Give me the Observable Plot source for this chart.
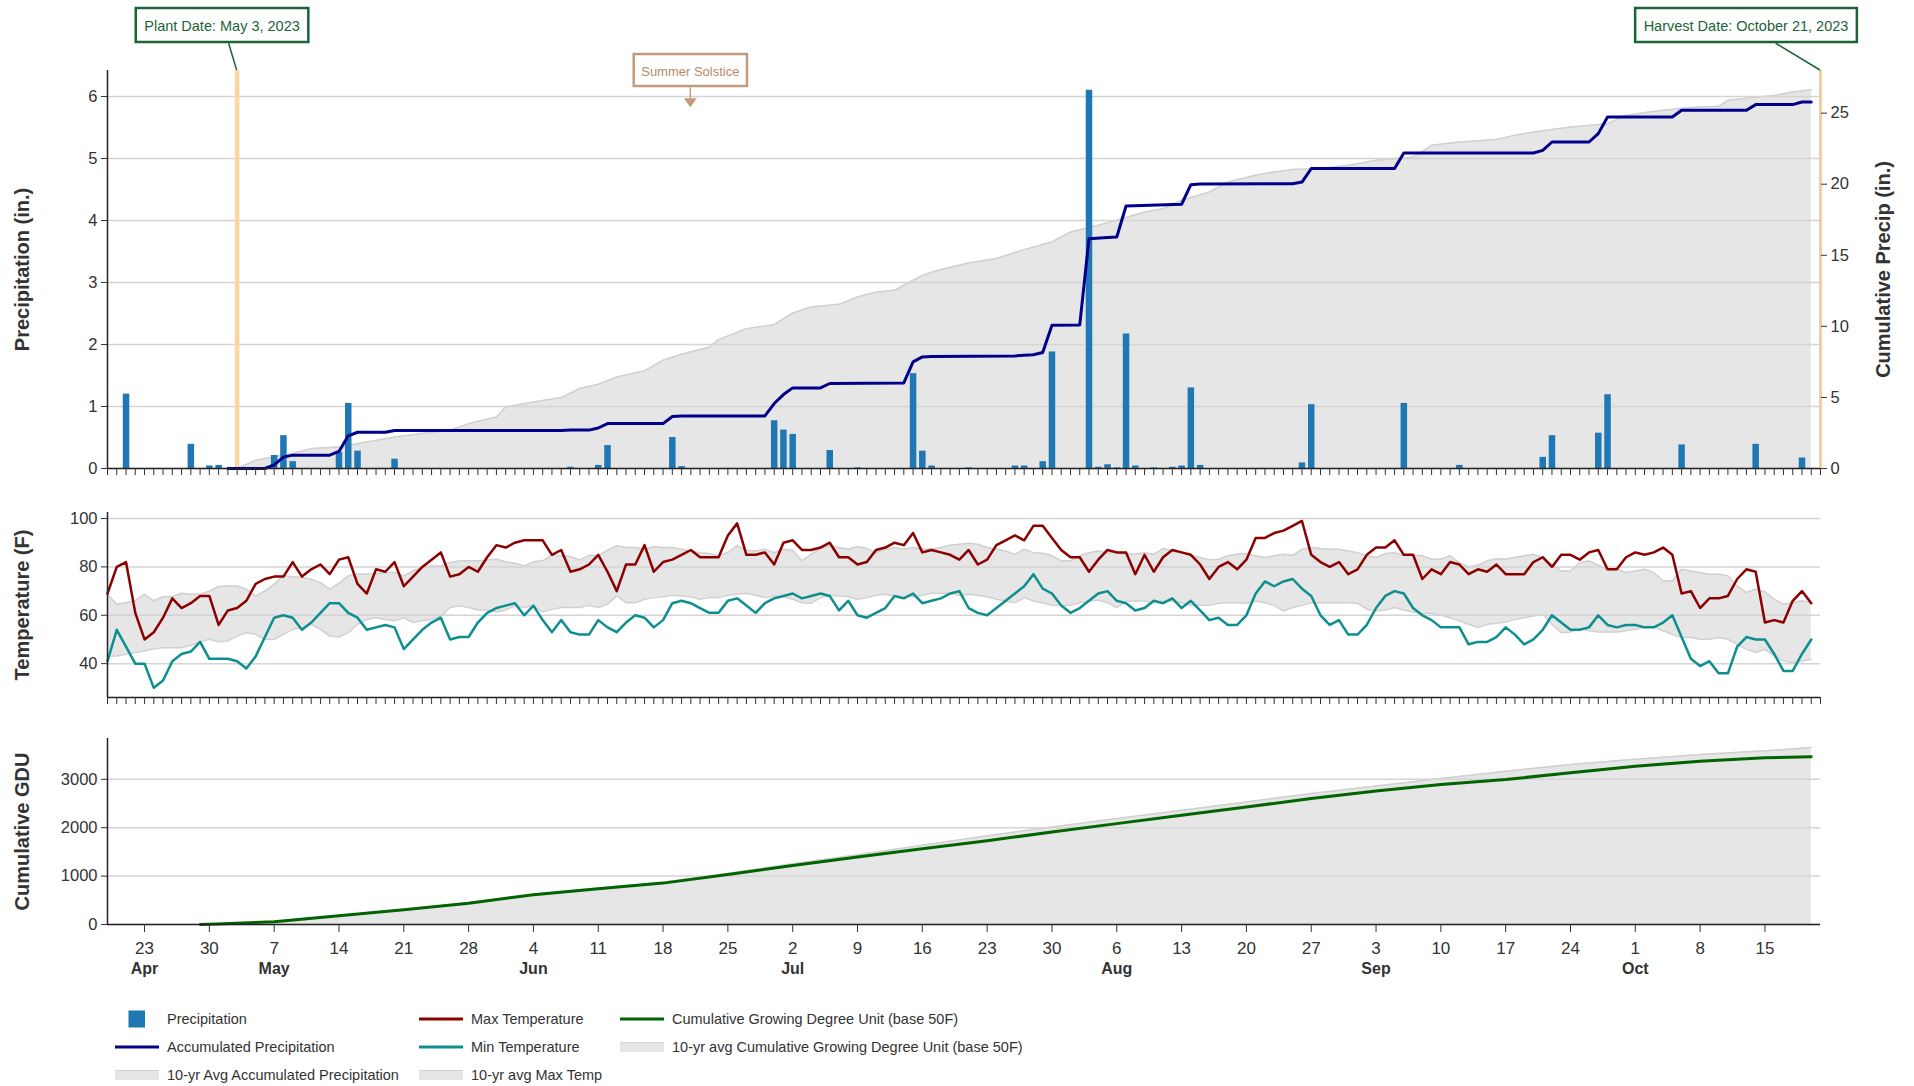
<!DOCTYPE html>
<html>
<head>
<meta charset="utf-8">
<script src="https://cdn.jsdelivr.net/npm/d3@7"></script>
<script src="https://cdn.jsdelivr.net/npm/@observablehq/plot@0.6"></script>
<style>
  body { margin: 0; background: #fff; }
  #root { position: relative; width: 1914px; height: 1086px; overflow: hidden; font-family: "Liberation Sans", Arial, sans-serif; }
  #root > svg { position: absolute; left: 0; }
  .lg { position: absolute; font-size: 14.5px; color: #333; white-space: nowrap; line-height: 18px; }
  .sw { position: absolute; }
</style>
</head>
<body>
<div id="root"></div>
<script>
// ---------------- DATA ----------------
const seasonStart = "2023-04-19";   // first day on the axis (day 0)
const harvestDate = "2023-10-21";   // axis end / harvest
const plantDate = "2023-05-03";
const solsticeDate = "2023-06-21";

// Daily precipitation (in.) — day offset from seasonStart, value
const precipDay = [2, 9, 11, 12, 18, 19, 20, 25, 26, 27, 31, 50, 53, 54, 61, 62, 72, 73, 74, 78, 81, 87, 88, 89, 93, 98, 99, 101, 102, 106, 107, 108, 109, 110, 111, 113, 115, 116, 117, 118, 129, 130, 140, 146, 155, 156, 161, 162, 170, 178, 183];
const precipIn = [1.2, 0.39, 0.04, 0.05, 0.21, 0.53, 0.11, 0.26, 1.05, 0.28, 0.15, 0.02, 0.05, 0.37, 0.5, 0.03, 0.77, 0.62, 0.55, 0.29, 0.01, 1.53, 0.28, 0.04, 0.01, 0.04, 0.04, 0.11, 1.88, 6.1, 0.02, 0.06, 0.01, 2.17, 0.04, 0.01, 0.02, 0.04, 1.3, 0.05, 0.09, 1.03, 1.05, 0.05, 0.18, 0.53, 0.57, 1.19, 0.38, 0.39, 0.17];

// Accumulated precipitation (in., right axis)
const accumDay = [13, 17, 18, 19, 20, 24, 25, 26, 27, 30, 31, 49, 50, 52, 53, 54, 60, 61, 62, 71, 72, 73, 74, 77, 78, 86, 87, 88, 89, 98, 99, 100, 101, 102, 105, 106, 108, 109, 110, 116, 117, 118, 128, 129, 130, 139, 140, 154, 155, 156, 160, 161, 162, 169, 170, 177, 178, 182, 183, 184];
const accumIn = [0, 0, 0.25, 0.8, 0.94, 0.94, 1.2, 2.3, 2.55, 2.55, 2.68, 2.68, 2.7, 2.7, 2.85, 3.16, 3.16, 3.66, 3.7, 3.7, 4.57, 5.2, 5.67, 5.67, 5.98, 6.02, 7.5, 7.85, 7.88, 7.92, 7.97, 8.0, 8.16, 10.08, 10.1, 16.17, 16.25, 16.29, 18.47, 18.59, 19.97, 20.02, 20.04, 20.15, 21.1, 21.1, 22.2, 22.2, 22.38, 22.97, 22.97, 23.56, 24.73, 24.73, 25.2, 25.2, 25.6, 25.6, 25.78, 25.78];

// 10-yr average accumulated precipitation (in., right axis)
const avgAccumDay = [14, 16, 17, 20, 22, 25, 28, 31, 34, 37, 39, 42, 43, 46, 49, 51, 53, 55, 58, 60, 62, 65, 66, 69, 72, 74, 76, 79, 81, 83, 85, 88, 90, 93, 96, 99, 102, 104, 107, 109, 112, 114, 116, 119, 121, 124, 126, 128, 131, 134, 137, 141, 143, 146, 150, 152, 154, 158, 162, 164, 167, 171, 174, 175, 180, 182, 184];
const avgAccumIn = [0, 0.58, 0.7, 1.05, 1.4, 1.52, 1.87, 2.22, 2.46, 2.69, 3.16, 3.63, 4.33, 4.68, 4.99, 5.63, 5.93, 6.44, 6.87, 7.62, 8.04, 8.55, 9.07, 9.84, 10.12, 10.94, 11.37, 11.55, 12.07, 12.42, 12.54, 13.59, 14.0, 14.46, 14.77, 15.4, 15.94, 16.64, 17.11, 17.46, 18.04, 18.28, 18.87, 19.45, 20.15, 20.63, 20.86, 21.03, 21.1, 21.33, 21.68, 21.91, 22.74, 22.97, 23.14, 23.44, 23.67, 24.02, 24.26, 24.84, 25.13, 25.39, 25.48, 25.9, 26.25, 26.48, 26.65];

// Daily temperatures (F), one value per day from seasonStart
const maxTemp = [69,80,82,61,50,53,59,67,63,65,68,68,56,62,63,66,73,75,76,76,82,76,79,81,77,83,84,73,69,79,78,82,72,76,80,83,86,76,77,80,78,84,89,88,90,91,91,
  91,85,87,78,79,81,85,78,70,81,81,89,78,82,83,85,87,84,84,84,93,98,85,85,86,81,90,91,87,87,88,90,84,84,81,82,87,88,90,89,94,86,87,86,85,83,87,
  81,83,89,91,93,91,97,97,92,87,84,84,78,83,87,86,86,77,85,78,84,87,86,85,81,75,80,82,79,83,92,92,94,95,97,99,85,82,80,82,77,79,85,88,88,91,
  85,85,75,79,77,82,81,77,79,78,81,77,77,77,82,84,80,85,85,83,86,87,79,79,84,86,85,86,88,85,69,70,63,67,67,68,75,79,78,57,58,57,66,70,65];
const minTemp = [41,54,47,40,40,30,33,41,44,45,49,42,42,42,41,38,43,51,59,60,59,54,57,61,65,65,61,59,54,55,56,55,46,50,54,57,59,50,51,51,57,61,63,64,65,60,64,
  58,53,58,53,52,52,58,55,53,57,60,59,55,58,65,66,65,63,61,61,66,67,64,61,65,67,68,69,67,68,69,68,62,66,60,59,61,63,68,67,69,65,66,67,69,70,63,
  61,60,63,66,69,72,77,71,69,64,61,63,66,69,70,66,65,62,63,66,65,67,63,66,62,58,59,56,56,60,69,74,72,74,75,71,68,60,56,58,52,52,56,63,68,70,
  69,63,60,58,55,55,55,48,49,49,51,55,52,48,50,54,60,57,54,54,55,60,56,55,56,56,55,55,57,60,51,42,39,41,36,36,47,51,50,50,44,37,37,44,50];
const avgMaxTemp = [68.7,64.6,65.2,66,68.7,66,67.7,67.7,69.1,68.7,68.7,70,71.9,72.1,72.1,70.8,68,70,72.8,76.3,75.9,75.6,74.9,73.5,70.8,73.2,76.3,77,77,77.2,77.7,77.7,76.3,78.3,80,80.4,80.4,81.8,82.5,82.5,82.5,82.8,83.2,82.1,81.5,80.4,82.1,
  82.5,84.8,84.6,84.3,82.9,84.8,84.6,86.9,88.7,88,88,87.3,88.3,88,88,87.3,86.6,85.9,85.5,84.6,85.9,88.7,86.9,86.6,87.3,85.9,87.3,86.9,82.5,85.2,87.6,88.7,88,87.3,88.4,87.6,85.9,87.3,88,87.3,88,87.3,87.3,88,89,89.4,89.8,
  89.4,88,87.3,86.6,85.2,87.3,85.9,85.7,84.6,82.5,82.5,84.6,85.9,86.6,85.9,85.7,85.2,85.2,85.9,85.2,87.6,86.6,85.9,84.8,83.9,82.9,83.2,84.6,85.2,85.5,84.6,83.9,84.6,85.2,84.8,87.3,88,87.6,87.3,87.3,86.6,85.9,84.6,83.9,85.5,85.9,
  84.8,84.8,84.6,83.2,83.2,84.6,81.8,80,80.7,82.5,83.4,83.2,83.9,84.6,85.2,83.9,81.1,78.3,78.3,81.8,82.5,80.7,79,79,77.7,78.3,79,77.7,74.2,74.2,79,78.3,77.7,77,77,76.3,72.1,69.4,70.8,69.7,66.6,64.6,65.2,66,65.2];
const avgMinTemp = [43.2,43.2,43.9,44.6,45.2,46.2,46.6,46.6,46.6,47.6,49,50.1,49,49.4,51.4,52.8,52.1,50.1,50.1,52.1,54.2,54.9,56.3,54.2,51.4,51,52.8,56.3,58.3,59,58.3,57.7,59,57,57.7,58.3,59.7,63.2,63.9,63.2,62.2,62.2,61.4,62.2,63.9,63.2,63.9,
  61.4,62.5,63.2,63.2,63.2,64.1,63.2,64.6,68,65.2,65.2,66.6,67.3,67.7,68.3,68,67.7,66.6,67.3,67.3,68.3,68.7,69.1,68.3,67.3,68,67.7,66.6,65.2,65,67.3,68.3,68,67.7,66.6,67.3,68.3,68.7,68,67.7,67.7,68.3,69.1,69.1,69.1,68.3,68.7,
  68.3,67.7,66.6,65.9,65.2,67.3,65.9,65.2,64.1,64.1,64.1,65.2,65.9,66.3,65.2,63.2,65.9,65.9,65.9,65.2,65.9,65.9,65.2,64.1,64.1,64.1,65,65.2,65.2,65,65.9,65.2,64.1,61.8,63.2,64.1,65.2,65.2,65.2,65.2,65.2,65,62.5,61.8,62.2,63.2,
  62.2,61.4,60.8,60.8,60,59,57.7,56.3,54.9,56.3,56.7,57.2,58.3,59,59.7,60.4,56.3,52.8,53.1,54.5,53.6,53.1,53.1,53.1,53.6,54.2,54.9,55.3,53.6,52.1,50.8,50.8,50.1,50.1,50.8,50.1,48,45.9,44.6,45.9,43.2,41.1,40.4,41.1,41.8];

// Cumulative GDU (base 50F) and 10-yr average
const gduDay = [10, 11, 18, 25, 32, 39, 46, 53, 60, 67, 74, 81, 88, 95, 102, 109, 116, 123, 130, 137, 144, 151, 158, 165, 172, 179, 184];
const gduValue = [0, 5, 55, 180, 304, 441, 614, 739, 855, 1035, 1221, 1394, 1567, 1730, 1911, 2084, 2257, 2429, 2602, 2760, 2892, 2996, 3133, 3271, 3375, 3443, 3464];
const avgGduValue = [0, 5, 60, 185, 312, 452, 625, 752, 872, 1055, 1255, 1440, 1635, 1835, 2015, 2188, 2360, 2533, 2705, 2863, 3016, 3168, 3306, 3416, 3513, 3588, 3658];

// Axis ticks / domains
const precipTicks = [0, 1, 2, 3, 4, 5, 6];
const cumPrecipTicks = [0, 5, 10, 15, 20, 25];
const tempTicks = [40, 60, 80, 100];
const gduTicks = [0, 1000, 2000, 3000];
const precipMax = 6.42, cumPrecipMax = 28;
const tempDomain = [26, 102.5];
const gduMax = 3843;

// ---------------- HELPERS ----------------
const FONT = '"Liberation Sans", Arial, Helvetica, sans-serif';
const TXT = "#333";
const parse = s => new Date(s + "T00:00:00Z");
const t0 = parse(seasonStart), tEnd = parse(harvestDate);
const dayDate = d => d3.utcDay.offset(t0, d);
const k = precipMax / cumPrecipMax; // right-axis units -> left-axis units
const plain = d => String(d);

const precip = precipDay.map((d, i) => ({date: dayDate(d), p: precipIn[i]}));
const accum = accumDay.map((d, i) => ({date: dayDate(d), v: accumIn[i]}));
const avgAccum = avgAccumDay.map((d, i) => ({date: dayDate(d), v: avgAccumIn[i]}));
const temps = maxTemp.map((v, i) => ({date: dayDate(i), max: v, min: minTemp[i], avgMax: avgMaxTemp[i], avgMin: avgMinTemp[i]}));
const gdu = gduDay.map((d, i) => ({date: dayDate(d), g: gduValue[i], a: avgGduValue[i]}));

const dailyTicks = d3.utcDay.range(t0, d3.utcDay.offset(tEnd, 1));
const weekTicks = d3.utcSunday.range(t0, tEnd);
const monthTicks = weekTicks.filter((d, i) => i === 0 || d.getUTCMonth() !== weekTicks[i - 1].getUTCMonth());

const W = 1914, ML = 107, MR = 94;
const common = {width: W, marginLeft: ML, marginRight: MR,
  x: {type: "utc", domain: [t0, tEnd]},
  style: {fontFamily: FONT, fontSize: "16.5px", color: TXT, background: "transparent", overflow: "visible"}};
const axisTitle = (label, anchor, dx) => Plot.text([label], {text: d => d, frameAnchor: anchor, dx, rotate: -90,
  textAnchor: "middle", lineAnchor: "middle", fontSize: 20, fontWeight: "bold", fill: TXT});

const root = document.getElementById("root");

// ---------------- PANEL 1: precipitation ----------------
const p1 = Plot.plot({...common, height: 480, marginTop: 70, marginBottom: 12,
  y: {domain: [0, precipMax]},
  marks: [
    Plot.areaY(avgAccum, {x: "date", y: d => d.v * k, fill: "#e6e6e6"}),
    Plot.lineY(avgAccum, {x: "date", y: d => d.v * k, stroke: "#d0d0d0", strokeWidth: 1.5}),
    Plot.gridY(precipTicks, {stroke: "#d4d4d4", strokeOpacity: 1, strokeWidth: 1.5}),
    Plot.ruleX([parse(plantDate)], {stroke: "#fdd5a3", strokeWidth: 4.5}),
    Plot.ruleX(precip, {x: "date", y1: 0, y2: "p", stroke: "#1f77b4", strokeWidth: 6.5}),
    Plot.lineY(accum, {x: "date", y: d => d.v * k, stroke: "#00008b", strokeWidth: 3}),
    Plot.ruleX([t0], {stroke: "#222", strokeWidth: 1.5}),
    Plot.ruleY([0], {stroke: "#222", strokeWidth: 1.5}),
    Plot.ruleX([tEnd], {stroke: "#f6c58e", strokeWidth: 2.5}),
    Plot.axisY({ticks: precipTicks, tickFormat: plain, tickSize: 6, tickPadding: 4, fontSize: 16.5, label: null}),
    Plot.axisY({anchor: "right", ticks: cumPrecipTicks.map(v => v * k), tickFormat: d => String(Math.round(d / k)),
      tickSize: 6, tickPadding: 4, fontSize: 16.5, label: null}),
    Plot.axisX({ticks: dailyTicks, tickFormat: () => "", tickSize: 7, label: null}),
    axisTitle("Precipitation (in.)", "left", -85),
    axisTitle("Cumulative Precip (in.)", "right", 63)
  ]
});
p1.style.top = "0px";
root.appendChild(p1);

// ---------------- PANEL 2: temperature ----------------
const p2 = Plot.plot({...common, height: 229, marginTop: 32, marginBottom: 12,
  y: {domain: tempDomain},
  marks: [
    Plot.areaY(temps, {x: "date", y1: "avgMin", y2: "avgMax", fill: "#e6e6e6"}),
    Plot.lineY(temps, {x: "date", y: "avgMax", stroke: "#d0d0d0", strokeWidth: 1.5}),
    Plot.lineY(temps, {x: "date", y: "avgMin", stroke: "#d0d0d0", strokeWidth: 1.5}),
    Plot.gridY(tempTicks, {stroke: "#d4d4d4", strokeOpacity: 1, strokeWidth: 1.5}),
    Plot.lineY(temps, {x: "date", y: "max", stroke: "#8b0000", strokeWidth: 2.5}),
    Plot.lineY(temps, {x: "date", y: "min", stroke: "#0e8f8f", strokeWidth: 2.5}),
    Plot.ruleX([t0], {stroke: "#222", strokeWidth: 1.5}),
    Plot.ruleY([tempDomain[0]], {stroke: "#222", strokeWidth: 1.5}),
    Plot.axisY({ticks: tempTicks, tickFormat: plain, tickSize: 6, tickPadding: 4, fontSize: 16.5, label: null}),
    Plot.axisX({ticks: dailyTicks, tickFormat: () => "", tickSize: 7, label: null}),
    axisTitle("Temperature (F)", "left", -85)
  ]
});
p2.style.top = "480px";
root.appendChild(p2);

// ---------------- PANEL 3: GDU ----------------
const p3 = Plot.plot({...common, height: 277, marginTop: 29, marginBottom: 62,
  y: {domain: [0, gduMax]},
  marks: [
    Plot.areaY(gdu, {x: "date", y: "a", fill: "#e6e6e6"}),
    Plot.lineY(gdu, {x: "date", y: "a", stroke: "#d0d0d0", strokeWidth: 1.5}),
    Plot.gridY(gduTicks, {stroke: "#d4d4d4", strokeOpacity: 1, strokeWidth: 1.5}),
    Plot.lineY(gdu, {x: "date", y: "g", stroke: "#006400", strokeWidth: 3}),
    Plot.ruleX([t0], {stroke: "#222", strokeWidth: 1.5}),
    Plot.ruleY([0], {stroke: "#222", strokeWidth: 1.5}),
    Plot.axisY({ticks: gduTicks, tickFormat: plain, tickSize: 6, tickPadding: 4, fontSize: 16.5, label: null}),
    Plot.axisX({ticks: weekTicks, tickFormat: d3.utcFormat("%-d"), tickSize: 8, tickPadding: 9, fontSize: 17, label: null}),
    Plot.text(monthTicks, {x: d => d, text: d3.utcFormat("%b"), frameAnchor: "bottom", dy: 44,
      textAnchor: "middle", lineAnchor: "middle", fontSize: 16, fontWeight: "bold", fill: TXT}),
    axisTitle("Cumulative GDU", "left", -85)
  ]
});
p3.style.top = "709px";
root.appendChild(p3);

// ---------------- CALLOUTS (anchored to dates via the x scale) ----------------
function callout(plot, date, label, o) {
  const x = plot.scale("x").apply(parse(date));
  const g = d3.select(plot).append("g").attr("font-family", FONT).attr("font-size", o.fontSize);
  const cx = x + o.dx;
  const t = g.append("text").attr("x", cx).attr("y", o.top + o.h / 2 + 1)
    .attr("text-anchor", "middle").attr("dominant-baseline", "central").attr("fill", o.color).text(label);
  const w = t.node().getComputedTextLength() + 2 * o.padX;
  g.insert("rect", "text").attr("x", cx - w / 2).attr("y", o.top).attr("width", w).attr("height", o.h)
    .attr("fill", "#fff").attr("stroke", o.border).attr("stroke-width", o.sw);
  if (o.leader) {
    g.append("line").attr("x1", cx + o.leader).attr("y1", o.top + o.h + o.sw / 2)
      .attr("x2", x).attr("y2", plot.scale("y").apply(precipMax)).attr("stroke", o.border).attr("stroke-width", 1.5);
  }
  if (o.arrow) {
    const y0 = o.top + o.h + o.sw / 2;
    g.append("line").attr("x1", x).attr("x2", x).attr("y1", y0).attr("y2", y0 + 12).attr("stroke", o.border).attr("stroke-width", 1.5);
    g.append("path").attr("d", `M${x - 6.5},${y0 + 11}L${x + 6.5},${y0 + 11}L${x},${y0 + 20}Z`).attr("fill", o.border);
  }
}
callout(p1, plantDate, "Plant Date: May 3, 2023",
  {dx: -14.6, top: 8, h: 34, padX: 8.5, fontSize: 14.5, color: "#1b6338", border: "#1b6338", sw: 2.5, leader: 6.6});
callout(p1, harvestDate, "Harvest Date: October 21, 2023",
  {dx: -74, top: 8, h: 34, padX: 8.5, fontSize: 14.5, color: "#1b6338", border: "#1b6338", sw: 2.5, leader: 29.7});
callout(p1, solsticeDate, "Summer Solstice",
  {dx: 0, top: 54, h: 32, padX: 7.5, fontSize: 13, color: "#b88a6a", border: "#c49a7c", sw: 2.5, arrow: true});

// ---------------- LEGEND ----------------
const legendItems = [
  {label: "Precipitation", kind: "square", color: "#1f77b4", col: 0, row: 0},
  {label: "Accumulated Precipitation", kind: "line", color: "#00008b", col: 0, row: 1},
  {label: "10-yr Avg Accumulated Precipitation", kind: "band", color: "#e6e6e6", col: 0, row: 2},
  {label: "Max Temperature", kind: "line", color: "#8b0000", col: 1, row: 0},
  {label: "Min Temperature", kind: "line", color: "#0e8f8f", col: 1, row: 1},
  {label: "10-yr avg Max Temp", kind: "band", color: "#e6e6e6", col: 1, row: 2},
  {label: "Cumulative Growing Degree Unit (base 50F)", kind: "line", color: "#006400", col: 2, row: 0},
  {label: "10-yr avg Cumulative Growing Degree Unit (base 50F)", kind: "band", color: "#e6e6e6", col: 2, row: 1}
];
const colX = [115, 419, 620], rowY = [1019, 1047, 1075];
for (const it of legendItems) {
  const x = colX[it.col], y = rowY[it.row];
  const sw = document.createElementNS("http://www.w3.org/2000/svg", "svg");
  sw.setAttribute("class", "sw"); sw.setAttribute("width", 44); sw.setAttribute("height", 20);
  sw.style.left = x + "px"; sw.style.top = (y - 10) + "px";
  if (it.kind === "square") sw.innerHTML = `<rect x="13.5" y="1.5" width="16.5" height="17" fill="${it.color}"/>`;
  else if (it.kind === "line") sw.innerHTML = `<line x1="0" x2="44" y1="10" y2="10" stroke="${it.color}" stroke-width="3"/>`;
  else sw.innerHTML = `<rect x="0" y="5" width="44" height="10" fill="${it.color}"/><line x1="0" x2="44" y1="5.5" y2="5.5" stroke="#d2d2d2" stroke-width="1"/>`;
  root.appendChild(sw);
  const d = document.createElement("div");
  d.className = "lg"; d.textContent = it.label;
  d.style.left = (x + 52) + "px"; d.style.top = (y - 9) + "px";
  root.appendChild(d);
}
</script>
</body>
</html>
